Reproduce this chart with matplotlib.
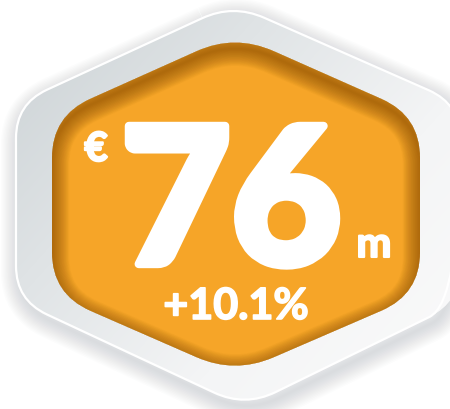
import matplotlib
matplotlib.use("Agg")
import matplotlib.pyplot as plt
import matplotlib.transforms as mtransforms
import matplotlib.patheffects as pe
from matplotlib.path import Path
from matplotlib.patches import PathPatch
from matplotlib.colors import LinearSegmentedColormap
import numpy as np

# --- DATA ---
currency = "€"
value = "76"
unit = "m"
change = "+10.1%"

# badge geometry (pixel coords, y down)
outer_hex = [(233, 4), (460, 104), (460, 302), (245, 407), (16, 300), (16, 104)]
inner_hex = [(235, 34), (420, 116), (420, 294), (235, 374), (52, 294), (52, 116)]

W, H = 450, 409
ORANGE = "#f6a528"


def rounded_path(verts, r):
    verts = np.asarray(verts, float)
    n = len(verts)
    codes, pts = [], []
    for i in range(n):
        prev_v, v, next_v = verts[i - 1], verts[i], verts[(i + 1) % n]
        a = v + (prev_v - v) / np.linalg.norm(prev_v - v) * r
        b = v + (next_v - v) / np.linalg.norm(next_v - v) * r
        pts += [a, v, b]
        codes += [Path.LINETO, Path.CURVE3, Path.CURVE3]
    codes[0] = Path.MOVETO
    pts.append(pts[0])
    codes.append(Path.CLOSEPOLY)
    return Path(pts, codes)


fig = plt.figure(figsize=(W / 100, H / 100), dpi=100)
ax = fig.add_axes([0, 0, 1, 1])
ax.set_xlim(0, W)
ax.set_ylim(H, 0)
ax.axis("off")

outer = rounded_path(outer_hex, 34)
inner = rounded_path(inner_hex, 42)

# soft drop shadow around the grey badge
shadow_tr = mtransforms.offset_copy(ax.transData, fig, x=3, y=-6, units="dots")
for lw in range(2, 28, 2):
    ax.add_patch(PathPatch(outer, facecolor="none", edgecolor="#7a8088",
                           lw=lw, alpha=0.018, transform=shadow_tr, joinstyle="round"))

# grey bevel with gradient
base = PathPatch(outer, facecolor="#e4e7e8", edgecolor="none")
ax.add_patch(base)
yy, xx = np.mgrid[0:H, 0:W]
grad = (xx / W * 0.55 + yy / H * 0.45)
grey_cmap = LinearSegmentedColormap.from_list("g", ["#c9d0d3", "#dfe3e5", "#f4f5f6", "#fbfbfb"])
im = ax.imshow(grad, extent=(0, W, H, 0), cmap=grey_cmap, origin="upper",
               interpolation="bilinear", zorder=1)
im.set_clip_path(base)
ax.add_patch(PathPatch(outer, facecolor="none", edgecolor="white", lw=1.6, zorder=2))

# orange face with smooth inner shadow
face = PathPatch(inner, facecolor=ORANGE, edgecolor="none", zorder=3)
ax.add_patch(face)
inner_tr = mtransforms.offset_copy(ax.transData, fig, x=0, y=-6, units="dots")
for lw in np.arange(1, 26, 1.0):
    p = PathPatch(inner, facecolor="none", edgecolor="#8a5006", lw=lw, alpha=0.035,
                  transform=inner_tr, zorder=4, joinstyle="round")
    ax.add_patch(p)
    p.set_clip_path(face)

# texts
font = dict(family=["Lato", "DejaVu Sans"], color="white", zorder=5)
ax.text(231, 264, value, fontsize=137, fontweight="black", ha="center", va="baseline",
        path_effects=[pe.withStroke(linewidth=6, foreground="white")], **font)
ax.text(96, 161, currency, fontsize=29, fontweight="bold", ha="center", va="baseline",
        path_effects=[pe.withStroke(linewidth=1.5, foreground="white")], **font)
ax.text(374, 257, unit, fontsize=30, fontweight="bold", ha="center", va="baseline",
        path_effects=[pe.withStroke(linewidth=1.5, foreground="white")], **font)
ax.text(236, 319, change, fontsize=31, fontweight="bold", ha="center", va="baseline",
        path_effects=[pe.withStroke(linewidth=1.2, foreground="white")], **font)

fig.savefig("out.png", dpi=100, facecolor="white")
